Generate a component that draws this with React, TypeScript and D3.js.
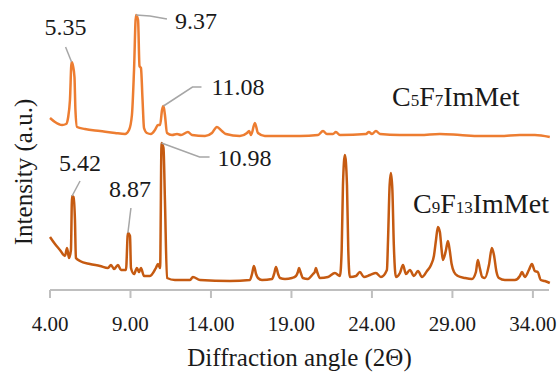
import React, { useEffect, useRef } from 'react';
import * as d3 from 'd3';

// C5F7ImMet (upper trace) - 2theta, intensity (a.u., stacked)
const topAngle = [4.0, 4.31, 4.75, 5.0, 5.12, 5.24, 5.34, 5.43, 5.52, 5.58, 5.68, 6.17, 7.11, 8.04, 8.66, 8.91, 9.09, 9.22, 9.34, 9.47, 9.56, 9.65, 9.75, 9.84, 10.02, 10.27, 10.52, 10.71, 10.84, 10.96, 11.05, 11.14, 11.27, 11.58, 11.89, 12.14, 12.57, 12.82, 13.63, 14.06, 14.37, 14.68, 14.93, 15.8, 16.24, 16.37, 16.49, 16.73, 16.92, 17.35, 19.53, 20.65, 20.96, 21.2, 21.58, 21.76, 22.01, 23.63, 23.81, 24.0, 24.25, 24.5, 25.74, 26.98, 28.22, 29.47, 30.71, 31.95, 33.19, 34.12, 35.05];
const topValue = [172, 168, 165, 166, 172, 190, 228, 224, 213, 180, 163, 161, 159, 157, 156, 160, 175, 220, 275, 270, 224, 222, 190, 162, 157, 156, 160, 165, 165, 180, 184, 175, 157, 155, 156, 155, 158, 155, 154, 157, 163, 159, 156, 154, 157, 159, 155, 167, 157, 154, 154, 155, 159, 156, 156, 158, 155, 156, 158, 156, 159, 156, 155, 155, 156, 155, 154, 154, 155, 155, 153];

// C9F13ImMet (lower trace)
const botAngle = [4.0, 4.31, 4.62, 4.93, 5.06, 5.18, 5.3, 5.37, 5.46, 5.55, 5.61, 5.86, 6.48, 7.11, 7.6, 7.79, 7.98, 8.22, 8.41, 8.72, 8.84, 8.97, 9.03, 9.22, 9.4, 9.53, 9.65, 9.84, 10.21, 10.58, 10.71, 10.84, 10.93, 11.05, 11.14, 11.27, 11.76, 12.7, 12.88, 13.32, 15.18, 16.42, 16.55, 16.67, 16.8, 16.92, 17.17, 17.79, 17.92, 18.04, 18.17, 18.29, 18.6, 19.03, 19.28, 19.4, 19.47, 19.56, 19.71, 20.02, 20.34, 20.45, 20.52, 20.6, 20.77, 21.27, 21.7, 22.01, 22.12, 22.2, 22.32, 22.45, 22.53, 22.63, 23.01, 23.25, 23.5, 23.88, 24.25, 24.56, 24.93, 25.0, 25.1, 25.18, 25.27, 25.36, 25.49, 25.74, 25.93, 26.11, 26.36, 26.61, 26.86, 27.11, 27.42, 27.67, 27.85, 27.98, 28.1, 28.22, 28.33, 28.41, 28.6, 28.72, 28.83, 28.95, 29.1, 29.34, 29.78, 30.21, 30.46, 30.58, 30.7, 30.85, 31.02, 31.27, 31.45, 31.58, 31.74, 31.89, 32.26, 32.88, 33.19, 33.32, 33.5, 33.75, 33.94, 34.12, 34.3, 34.49, 34.74, 35.05];
const botValue = [53, 46, 40, 34, 42, 32, 40, 94, 93, 70, 32, 29, 26, 24, 22, 25, 21, 25, 20, 20, 57, 54, 22, 16, 22, 18, 22, 14, 14, 22, 26, 22, 147, 142, 90, 12, 10, 10, 13, 10, 9, 10, 16, 24, 16, 12, 10, 11, 16, 23, 16, 12, 11, 12, 14, 18, 22, 18, 12, 11, 16, 18, 22, 18, 12, 13, 17, 14, 40, 105, 135, 105, 40, 13, 14, 18, 13, 15, 17, 13, 20, 50, 105, 117, 100, 45, 13, 17, 25, 16, 20, 14, 19, 13, 19, 25, 34, 50, 63, 58, 40, 30, 40, 49, 40, 26, 18, 14, 12, 11, 18, 30, 22, 13, 12, 25, 42, 35, 18, 12, 10, 10, 14, 18, 13, 20, 26, 19, 18, 10, 9, 7];

const xTicks = [4, 9, 14, 19, 24, 29, 34];
const topPeaks = ['5.35', '9.37', '11.08'];
const botPeaks = ['5.42', '8.87', '10.98'];

const W = 558;
const H = 372;
const FONT = 'Liberation Serif';

export default function App() {
  const ref = useRef<SVGSVGElement>(null);

  useEffect(() => {
    const svg = d3.select(ref.current);
    svg.selectAll('*').remove();

    const x = d3.scaleLinear().domain([4, 35]).range([50, 549]);
    const y = d3.scaleLinear().domain([0, 280]).range([290, 10]);

    // axis
    const axisY = 290;
    svg.append('line')
      .attr('x1', 50).attr('x2', x(35))
      .attr('y1', axisY).attr('y2', axisY)
      .attr('stroke', '#bfbfbf').attr('stroke-width', 2);
    const tick = svg.append('g').selectAll('g').data(xTicks).join('g')
      .attr('transform', d => `translate(${x(d)},0)`);
    tick.append('line')
      .attr('y1', axisY).attr('y2', axisY + 8)
      .attr('stroke', '#bfbfbf').attr('stroke-width', 2);
    tick.append('text')
      .attr('y', 331)
      .attr('text-anchor', 'middle')
      .style('font-family', FONT).style('font-size', '21px')
      .attr('fill', '#1a1a1a')
      .text(d => d3.format('.2f')(d));

    svg.append('text')
      .attr('x', (50 + x(35)) / 2).attr('y', 366)
      .attr('text-anchor', 'middle')
      .style('font-family', FONT).style('font-size', '25px')
      .attr('fill', '#1a1a1a')
      .text('Diffraction angle (2Θ)');

    svg.append('text')
      .attr('transform', 'translate(32,172) rotate(-90)')
      .attr('text-anchor', 'middle')
      .style('font-family', FONT).style('font-size', '25px')
      .attr('fill', '#1a1a1a')
      .text('Intensity (a.u.)');

    const line = d3.line<number[]>()
      .x(d => x(d[0]))
      .y(d => y(d[1]))
      .curve(d3.curveMonotoneX);

    const series = [
      { angle: topAngle, value: topValue, color: '#ed7d31', peaks: topPeaks },
      { angle: botAngle, value: botValue, color: '#c55a11', peaks: botPeaks },
    ];

    // label layout: leader points and text anchor relative to the peak (px)
    const layout: Record<string, { pts: number[][]; tx: number; ty: number; anchor: string }> = {
      '5.35': { pts: [[0, 0], [-6, -15]], tx: -6, ty: -27, anchor: 'middle' },
      '9.37': { pts: [[0, 0], [14, 1], [31, 4]], tx: 39, ty: 14, anchor: 'start' },
      '11.08': { pts: [[0, 0], [29, -19], [38, -19]], tx: 48, ty: -11, anchor: 'start' },
      '5.42': { pts: [[0, 0], [8, -15]], tx: 8, ty: -25, anchor: 'middle' },
      '8.87': { pts: [[0, 0], [3, -25]], tx: 2, ty: -36, anchor: 'middle' },
      '10.98': { pts: [[0, 0], [38, 14], [48, 14]], tx: 56, ty: 23, anchor: 'start' },
    };

    series.forEach(s => {
      const pts = s.angle.map((a, i) => [a, s.value[i]]);
      svg.append('path')
        .attr('d', line(pts))
        .attr('fill', 'none')
        .attr('stroke', s.color)
        .attr('stroke-width', 2.5)
        .attr('stroke-linejoin', 'round');

      s.peaks.forEach(p => {
        const pv = +p;
        const near = pts.filter(d => Math.abs(d[0] - pv) < 0.15);
        const top = near.reduce((m, d) => (d[1] > m[1] ? d : m), near[0]);
        const px = x(top[0]);
        const py = y(top[1]);
        const L = layout[p];
        svg.append('path')
          .attr('d', d3.line()(L.pts.map(q => [px + q[0], py + q[1]]) as any))
          .attr('fill', 'none')
          .attr('stroke', '#a6a6a6')
          .attr('stroke-width', 1.5);
        svg.append('text')
          .attr('x', px + L.tx).attr('y', py + L.ty)
          .attr('text-anchor', L.anchor)
          .style('font-family', FONT).style('font-size', '24px')
          .attr('fill', '#1a1a1a')
          .text(p);
      });
    });

    // series names with small digits
    const names = [
      { parts: [['C', 0], ['5', 1], ['F', 0], ['7', 1], ['ImMet', 0]], x: 392, y: 106 },
      { parts: [['C', 0], ['9', 1], ['F', 0], ['13', 1], ['ImMet', 0]], x: 413, y: 213 },
    ];
    names.forEach(n => {
      const t = svg.append('text')
        .attr('x', n.x).attr('y', n.y)
        .style('font-family', FONT).style('font-size', '28px')
        .attr('fill', '#1a1a1a');
      n.parts.forEach(([str, small]) => {
        t.append('tspan')
          .style('font-size', small ? '17px' : '28px')
          .text(str as string);
      });
    });
  }, []);

  return (
    <svg ref={ref} width={W} height={H}
      style={{ position: 'absolute', left: 0, top: 0, background: '#fff' }} />
  );
}
